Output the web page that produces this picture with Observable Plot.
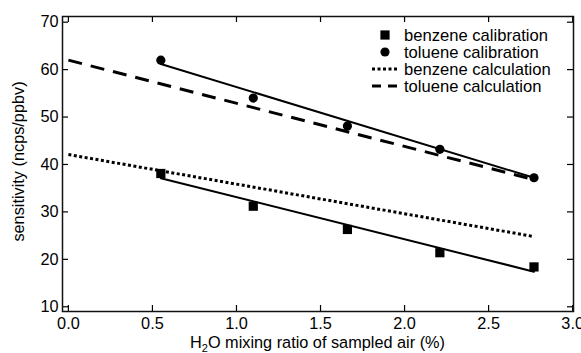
<!DOCTYPE html>
<html>
<head>
<meta charset="utf-8">
<script src="https://cdn.jsdelivr.net/npm/d3@7"></script>
<script src="https://cdn.jsdelivr.net/npm/@observablehq/plot@0.6"></script>
<style>
  html, body { margin: 0; padding: 0; background: #fff; }
  #chart { width: 581px; height: 353px; }
</style>
</head>
<body>
<div id="chart"></div>
<script>
// ---- data ----
const xTicks = [0, 0.5, 1.0, 1.5, 2.0, 2.5, 3.0];
const yTicks = [10, 20, 30, 40, 50, 60, 70];

const waterRatio = [0.55, 1.1, 1.66, 2.21, 2.77];
const benzeneCalibration = [38.1, 31.2, 26.3, 21.4, 18.4];
const tolueneCalibration = [62.0, 54.0, 48.1, 43.2, 37.2];

// straight fit lines through calibration points (end points)
const fitX = [0.55, 2.77];
const benzeneFit = [37.1, 17.4];
const tolueneFit = [61.2, 37.2];

// calculated sensitivities (end points)
const calcX = [0.0, 2.77];
const benzeneCalc = [42.1, 24.8];
const tolueneCalc = [62.0, 36.8];

const legendLabels = ["benzene calibration", "toluene calibration", "benzene calculation", "toluene calculation"];

// ---- tables ----
const pts = (xs, ys) => xs.map((x, i) => ({x, y: ys[i]}));

const W = 581, H = 353;
const mL = 62, mR = 8, mT = 16, mB = 42;
const innerW = W - mL - mR, innerH = H - mT - mB;
const tick = 6;
const font = "'Liberation Sans', Arial, Helvetica, sans-serif";
const fs = 16.3;

const chart = Plot.plot({
  width: W,
  height: H,
  marginLeft: mL,
  marginRight: mR,
  marginTop: mT,
  marginBottom: mB,
  style: {fontFamily: font, fontSize: fs + "px", color: "#000", background: "#fff"},
  x: {domain: [-0.035, 3.005]},
  y: {domain: [9, 71.2]},
  marks: [
    Plot.axisX(xTicks, {tickSize: 0, tickPadding: 6, tickFormat: d3.format(".1f"), label: null, fontSize: fs}),
    Plot.axisY(yTicks, {tickSize: 0, tickPadding: 4, label: null, fontSize: fs}),
    // inward ticks on all four sides
    Plot.ruleX(xTicks, {insetTop: innerH - tick, stroke: "#000", strokeWidth: 1.2}),
    Plot.ruleX(xTicks, {insetBottom: innerH - tick, stroke: "#000", strokeWidth: 1.2}),
    Plot.ruleY(yTicks, {insetRight: innerW - tick, stroke: "#000", strokeWidth: 1.2}),
    Plot.ruleY(yTicks, {insetLeft: innerW - tick, stroke: "#000", strokeWidth: 1.2}),
    Plot.frame({stroke: "#111", strokeWidth: 1.5}),
    // calculated lines
    Plot.line(pts(calcX, tolueneCalc), {x: "x", y: "y", stroke: "#000", strokeWidth: 3, strokeDasharray: "14,9", strokeLinecap: "butt"}),
    Plot.line(pts(calcX, benzeneCalc), {x: "x", y: "y", stroke: "#000", strokeWidth: 3, strokeDasharray: "3,2.5", strokeLinecap: "butt"}),
    // fit lines
    Plot.line(pts(fitX, tolueneFit), {x: "x", y: "y", stroke: "#000", strokeWidth: 2}),
    Plot.line(pts(fitX, benzeneFit), {x: "x", y: "y", stroke: "#000", strokeWidth: 2}),
    // calibration points
    Plot.dot(pts(waterRatio, tolueneCalibration), {x: "x", y: "y", r: 4.6, fill: "#000", stroke: "none"}),
    Plot.dot(pts(waterRatio, benzeneCalibration), {x: "x", y: "y", r: 5.2, symbol: "square", fill: "#000", stroke: "none"})
  ]
});

document.getElementById("chart").appendChild(chart);

// ---- axis titles and legend ----
const svg = d3.select(chart);

const xt = svg.append("text")
  .attr("x", mL + innerW / 2)
  .attr("y", H - 5)
  .attr("text-anchor", "middle")
  .attr("font-family", font)
  .attr("font-size", fs)
  .attr("fill", "#000");
xt.append("tspan").text("H");
xt.append("tspan").text("2").attr("font-size", 11).attr("dy", 4);
xt.append("tspan").text("O mixing ratio of sampled air (%)").attr("dy", -4);

svg.append("text")
  .attr("transform", `translate(24,${mT + innerH / 2 - 2}) rotate(-90)`)
  .attr("text-anchor", "middle")
  .attr("font-family", font)
  .attr("font-size", fs)
  .attr("fill", "#000")
  .text("sensitivity (ncps/ppbv)");

const lfs = 16.6;
const leg = svg.append("g").attr("font-family", font).attr("font-size", lfs).attr("text-anchor", "start");
const rowY = [35, 52, 69, 86];
const symX = 385, lineX1 = 372, lineX2 = 397, textX = 404;
legendLabels.forEach((lab, i) => {
  const y = rowY[i];
  leg.append("text").attr("x", textX).attr("y", y + 6).attr("fill", "#000").attr("text-anchor", "start").text(lab);
});
leg.append("rect").attr("x", symX - 4.6).attr("y", rowY[0] - 4.6).attr("width", 9.2).attr("height", 9.2).attr("fill", "#000");
leg.append("circle").attr("cx", symX).attr("cy", rowY[1]).attr("r", 4.6).attr("fill", "#000");
leg.append("line").attr("x1", lineX1).attr("x2", lineX2).attr("y1", rowY[2]).attr("y2", rowY[2])
  .attr("stroke", "#000").attr("stroke-width", 3).attr("stroke-dasharray", "3,2.5").attr("stroke-linecap", "butt");
leg.append("line").attr("x1", lineX1).attr("x2", lineX2).attr("y1", rowY[3]).attr("y2", rowY[3])
  .attr("stroke", "#000").attr("stroke-width", 3).attr("stroke-dasharray", "9,7").attr("stroke-linecap", "butt");
</script>
</body>
</html>
